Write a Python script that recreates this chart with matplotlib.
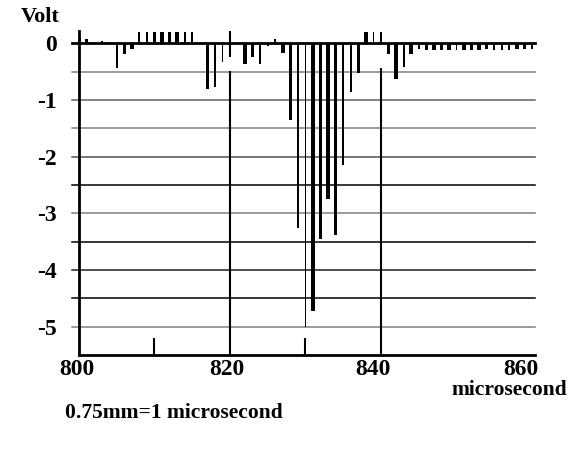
import numpy as np
import matplotlib.pyplot as plt
import matplotlib.transforms as mtransforms

# time in microseconds and measured voltage (Volt) of each pulse
t = np.arange(800, 861)
volt = [0.10, 0.07, 0.02, 0.04, 0.03, -0.43, -0.19, -0.09, 0.21, 0.21,
        0.21, 0.21, 0.21, 0.21, 0.21, 0.21, -0.01, -0.81, -0.76, -0.33,
        0.00, -0.02, -0.37, -0.24, -0.37, -0.04, 0.07, -0.16, -1.36, -3.26,
        -5.00, -4.73, -3.46, -2.74, -3.39, -2.15, -0.85, -0.53, 0.21, 0.21,
        0.21, -0.19, -0.63, -0.41, -0.18, -0.10, -0.11, -0.11, -0.11, -0.11,
        -0.12, -0.11, -0.11, -0.11, -0.09, -0.12, -0.12, -0.12, -0.10, -0.10,
        -0.10]
# 1 = thick stroke, 0 = thin stroke (as drawn in the original)
thick = [1, 1, 0, 0, 0, 0, 1, 1, 0, 0, 1, 1, 1, 1, 0, 0, 0, 1, 0, 0,
         0, 0, 1, 1, 0, 0, 0, 1, 1, 0, 0, 1, 1, 1, 1, 0, 0, 1, 1, 0,
         0, 1, 1, 0, 1, 0, 1, 1, 1, 1, 0, 1, 1, 1, 1, 0, 0, 0, 1, 1, 0]

yticks = [0, -1, -2, -3, -4, -5]
xticks = [800, 820, 840, 860]

serif = ['Liberation Serif', 'DejaVu Serif']

fig = plt.figure(figsize=(5.74, 4.57), dpi=100)
ax = fig.add_axes([79 / 574, 1 - 355 / 457, (535 - 79) / 574, (355 - 31) / 457])

ax.set_xlim(800, 860.4)
ax.set_ylim(-5.5, 0.22)

# horizontal grid lines (every 0.5 V), some darker than others
grid_y = [-0.5, -1, -1.5, -2, -2.5, -3, -3.5, -4, -4.5, -5]
grid_c = ['#808080', '#606060', '#808080', '#505050', 'black',
          '#808080', 'black', '#202020', 'black', '#808080']
for gy, gc in zip(grid_y, grid_c):
    ax.plot([-0.016, 1], [gy, gy], color=gc, lw=1.1,
            transform=ax.get_yaxis_transform(), clip_on=False, zorder=1)
ax.plot([-0.016, 1], [0, 0], color='black', lw=2,
        transform=ax.get_yaxis_transform(), clip_on=False, zorder=3)

# vertical lines at 820 and 840
ax.vlines(820, -5.5, -0.48, color='black', lw=1.5, zorder=2)
ax.vlines(820, -0.24, 0.22, color='black', lw=1.5, zorder=2)
ax.vlines(840, -5.5, -0.44, color='black', lw=1.5, zorder=2)

widths = [0.45 if k else 0.24 for k in thick]
ax.bar(t, volt, width=widths, color='black', linewidth=0, zorder=4)

for s in ['top', 'right']:
    ax.spines[s].set_visible(False)
ax.spines['left'].set_linewidth(2)
ax.spines['bottom'].set_linewidth(2)

ax.set_yticks(yticks)
ax.set_yticklabels([str(v) for v in yticks])
ax.set_xticks(xticks)
ax.set_xticklabels([str(v) for v in xticks])
ax.set_xticks([810, 830], minor=True)
ax.tick_params(axis='y', length=0, pad=16)
ax.tick_params(axis='x', which='major', length=0, pad=3)
ax.tick_params(axis='x', which='minor', direction='in', length=12, width=1.5)
for lab in ax.get_xticklabels() + ax.get_yticklabels():
    lab.set_family(serif)
    lab.set_fontweight('bold')
    lab.set_fontsize(17)

# the scanned labels sit a little left of their ticks
shifts = [-2, -3, -8, -11]
for lab, dx in zip(ax.get_xticklabels(), shifts):
    lab.set_transform(lab.get_transform() +
                      mtransforms.ScaledTranslation(dx / 100, 0, fig.dpi_scale_trans))

fig.text(40 / 574, 1 - 17 / 457, 'Volt', family=serif, fontweight='bold',
         fontsize=16, ha='center', va='center')
fig.text(567 / 574, 1 - 390 / 457, 'microsecond', family=serif,
         fontweight='bold', fontsize=15.5, ha='right', va='center')
fig.text(65 / 574, 1 - 413 / 457, '0.75mm=1 microsecond', family=serif,
         fontweight='bold', fontsize=15.5, ha='left', va='center')

plt.savefig('out.png', dpi=100)
